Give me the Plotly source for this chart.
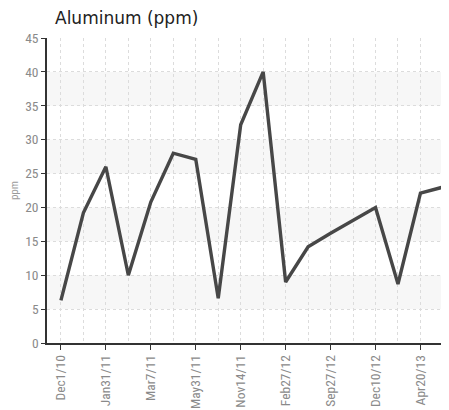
import plotly.graph_objects as go

dates = ["Dec1/10", "Jan5/11", "Jan31/11", "Feb15/11", "Mar7/11", "Apr20/11",
         "May31/11", "Sep1/11", "Nov14/11", "Jan10/12", "Feb27/12", "Jun5/12",
         "Sep27/12", "Oct30/12", "Dec10/12", "Feb14/13", "Apr20/13", "Jun3/13"]
values = [6.3, 19.2, 26, 10, 20.8, 28, 27.1, 6.6, 32.2, 40, 9, 14.2, 16.2, 18.1, 20, 8.7, 22.1, 23]
tick_labels = dates[::2]
y_ticks = [0, 5, 10, 15, 20, 25, 30, 35, 40, 45]
bands = [(5, 10), (15, 20), (25, 30), (35, 40)]

idx = list(range(len(dates)))
xr = [-0.62, 17.27]

# page body has an 8px default margin; size the figure to fit the window
W, H, OFF = 441, 402, 8

fig = go.Figure()
for lo, hi in bands:
    fig.add_shape(type="rect", xref="paper", yref="y", x0=0, x1=1, y0=lo, y1=hi,
                  fillcolor="#f7f7f7", line_width=0, layer="below")

fig.add_trace(go.Scatter(x=idx, y=values, mode="lines",
                         line=dict(color="#474747", width=3.4),
                         text=dates, hoverinfo="text+y"))
fig.add_trace(go.Scatter(x=[idx[0]], y=[values[0]], xaxis="x2", mode="lines",
                         hoverinfo="skip", showlegend=False, line=dict(width=0)))

tick_font = dict(family="Liberation Sans Narrow, Roboto Condensed, Arial Narrow, sans-serif",
                 size=13.5, color="#8a8a8a")
grid_dash = "3px,3px"

fig.update_layout(
    width=W, height=H,
    margin=dict(l=47 - OFF, r=0, t=38 - OFF, b=67, pad=0),
    paper_bgcolor="white", plot_bgcolor="white",
    showlegend=False,
    title=dict(text="Aluminum (ppm)", x=(55 - OFF) / W, xanchor="left", xref="container",
               y=1 - (18 - OFF) / H, yanchor="middle", automargin=False,
               font=dict(family="DejaVu Sans, Verdana, sans-serif", size=17, color="#222")),
    xaxis=dict(range=xr, tickmode="array", tickvals=idx[::2], ticktext=tick_labels,
               tickangle=-90, tickfont=tick_font, ticks="outside", ticklen=5, tickcolor="#333",
               showline=True, linecolor="#333", linewidth=1.5, automargin=False,
               showgrid=False, zeroline=False),
    xaxis2=dict(overlaying="x", range=xr, tickmode="array",
                tickvals=idx, showticklabels=False, showgrid=True,
                gridcolor="#dcdcdc", griddash=grid_dash, gridwidth=1, automargin=False,
                zeroline=False, showline=False, ticks=""),
    yaxis=dict(range=[0, 45], tickmode="array", tickvals=y_ticks, tickfont=tick_font,
               ticks="outside", ticklen=4, tickcolor="#333", automargin=False,
               showline=True, linecolor="#333", linewidth=1.5,
               gridcolor="#dcdcdc", griddash=grid_dash, gridwidth=1, zeroline=False,
               title=dict(text="ppm", standoff=6,
                          font=dict(family="Liberation Sans Narrow, Roboto Condensed, sans-serif",
                                    size=11, color="#9a9a9a"))),
)

fig.write_html("out.html")
